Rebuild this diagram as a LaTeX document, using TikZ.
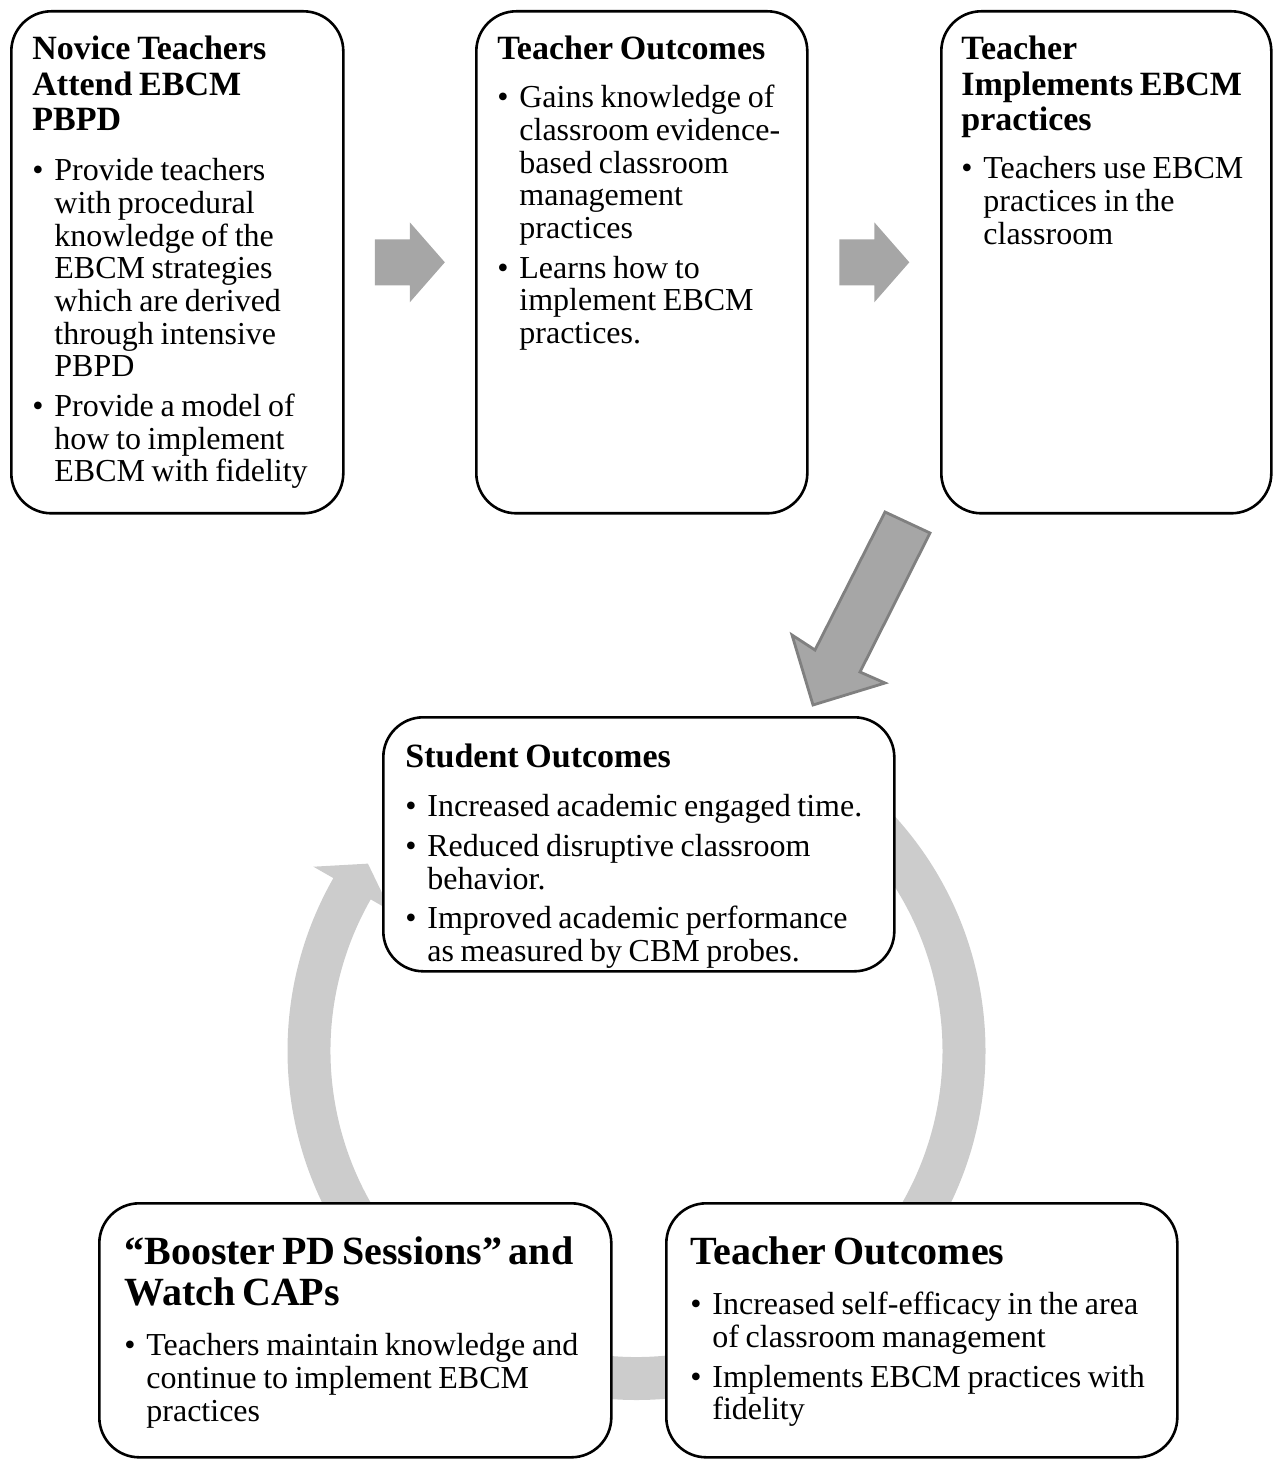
\documentclass[tikz,border=0pt]{standalone}
\usepackage{fontspec}
\setmainfont{Liberation Serif}
\usetikzlibrary{positioning,calc}
\definecolor{arrowgray}{HTML}{A6A6A6}
\definecolor{arrowedge}{HTML}{808080}
\definecolor{ringgray}{HTML}{CCCCCC}
% heading and body fonts, bullet items
\newcommand{\hd}{\fontsize{17}{17.75}\selectfont\bfseries}
\newcommand{\bighd}{\fontsize{20}{20.5}\selectfont\bfseries}
\newcommand{\bd}[1][5pt]{\par\vspace{#1}\normalfont\fontsize{16}{16.35}\selectfont}
\newcommand{\bul}{\par\vspace{3.5pt}\hangindent=11pt\hangafter=1\noindent\makebox[11pt][l]{\textbullet}}
\begin{document}
\begin{tikzpicture}[x=0.5pt,y=-0.5pt,
    box/.style={draw, line width=1.3pt, rounded corners=20pt, fill=white,
      anchor=north west, inner sep=0pt},
    txt/.style={anchor=north west, inner sep=0pt, text width=240pt, align=left},
    blockarrow/.pic={\fill[arrowgray] (-35,-23) -- (0,-23) -- (0,-40) -- (35,0)
      -- (0,40) -- (0,23) -- (-35,23) -- cycle;}]
  \useasboundingbox (0,0) rectangle (1279,1459);
  % cycle ring behind the lower boxes
  \begin{scope}[shift={(636.5,1051)}]
    \fill[ringgray] (-45:349) arc[start angle=-45, end angle=209.7, radius=349]
      -- (209.7:372) -- (214.9:327.5) -- (209.7:283) -- (209.7:306)
      arc[start angle=209.7, end angle=-45, radius=306] -- cycle;
  \end{scope}
  % --- top row ---
  \node[box, minimum width=166pt, minimum height=251pt] (novice) at (10,10) {};
  \node[box, minimum width=165.5pt, minimum height=251pt] (teach) at (475,10) {};
  \node[box, minimum width=165pt, minimum height=251pt] (impl) at (940,10) {};
  \node[txt, below right=13pt and 11pt of novice.north west] (novicetxt) {\hd
    Novice Teachers\\Attend EBCM\\PBPD\bd
    \bul Provide teachers\newline with procedural\newline knowledge of the\newline EBCM strategies\newline which are derived\newline through intensive\newline PBPD
    \bul Provide a model of\newline how to implement\newline EBCM with fidelity\par};
  \node[txt, below right=13pt and 11pt of teach.north west] (teachtxt) {\hd
    Teacher Outcomes\bd[4pt]
    \bul Gains knowledge of\newline classroom evidence-\newline based classroom\newline management\newline practices
    \bul Learns how to\newline implement EBCM\newline practices.\par};
  \node[txt, below right=13pt and 10.5pt of impl.north west] (impltxt) {\hd
    Teacher\\Implements EBCM\\practices\bd[4pt]
    \bul Teachers use EBCM\newline practices in the\newline classroom\par};
  \pic at ($(novice.east)!0.5!(teach.west)$) {blockarrow};
  \pic at ($(teach.east)!0.5!(impl.west)$) {blockarrow};
  % --- cycle ---
  \node[box, minimum width=255.5pt, minimum height=127pt] (student) at (382,716) {};
  \node[box, minimum width=256pt, minimum height=127pt] (booster) at (98,1202) {};
  \node[box, minimum width=255.5pt, minimum height=127pt] (tout) at (665,1202) {};
  \node[txt, below right=14pt and 11.5pt of student.north west] (studenttxt) {\hd
    Student Outcomes\bd[4.5pt]
    \bul Increased academic engaged time.
    \bul Reduced disruptive classroom\newline behavior.
    \bul Improved academic performance\newline as measured by CBM probes.\par};
  \node[txt, below right=17pt and 13pt of booster.north west] (boostertxt) {\bighd
    “Booster PD Sessions” and\\Watch CAPs\bd[5.5pt]
    \bul Teachers maintain knowledge and\newline continue to implement EBCM\newline practices\par};
  \node[txt, below right=17pt and 12.5pt of tout.north west] (touttxt) {\bighd
    Teacher Outcomes\bd[5.5pt]
    \bul Increased self-efficacy in the area\newline of classroom management
    \bul Implements EBCM practices with\newline fidelity\par};
  % down arrow into the cycle
  \filldraw[fill=arrowgray, draw=arrowedge, line width=1.4pt, line join=miter]
    (885,512) -- (930,533) -- (860,672) -- (885,683) -- (813,705) -- (792,635)
    -- (815,650) -- cycle;
\end{tikzpicture}
\end{document}
